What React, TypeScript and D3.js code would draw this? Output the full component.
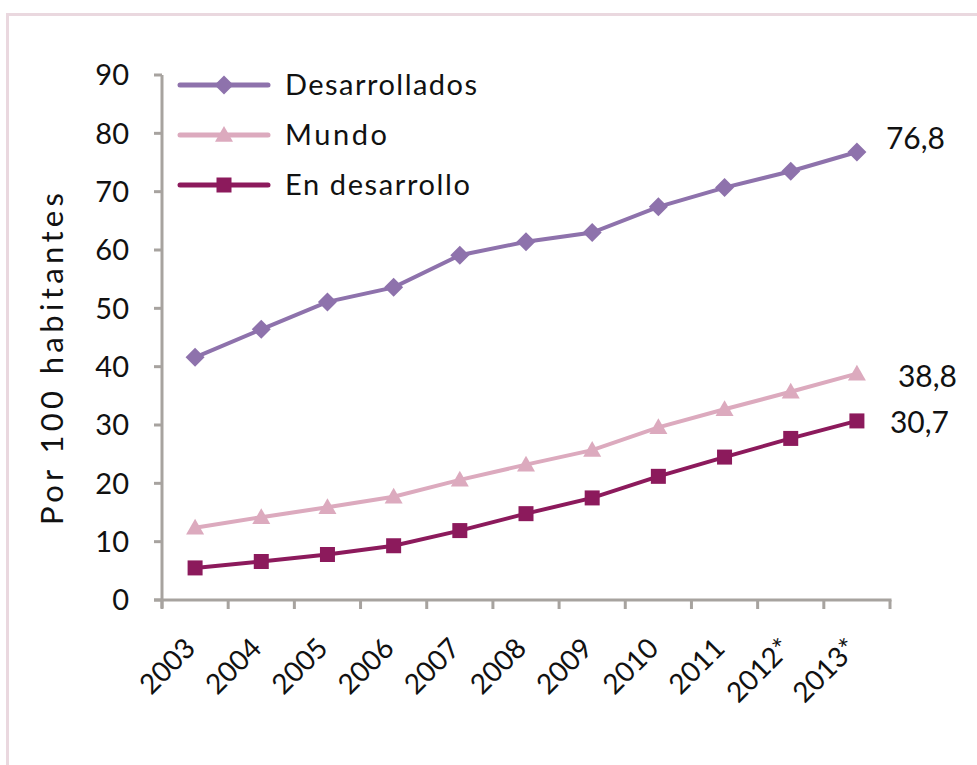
import React from "react";
import * as d3 from "d3";

const years = ["2003", "2004", "2005", "2006", "2007", "2008", "2009", "2010", "2011", "2012*", "2013*"];
const desarrollados = [41.6, 46.4, 51.1, 53.6, 59.1, 61.4, 63.0, 67.4, 70.7, 73.5, 76.8];
const mundo = [12.4, 14.2, 15.9, 17.7, 20.6, 23.2, 25.7, 29.6, 32.7, 35.7, 38.8];
const enDesarrollo = [5.5, 6.6, 7.8, 9.3, 11.9, 14.8, 17.5, 21.2, 24.5, 27.7, 30.7];
const yTicks = [0, 10, 20, 30, 40, 50, 60, 70, 80, 90];
const endLabels = ["76,8", "38,8", "30,7"];
const seriesNames = ["Desarrollados", "Mundo", "En desarrollo"];

const FONT = "Lato, 'Open Sans', sans-serif";
const AXIS = "#a7a39f";

export default function App() {
  const W = 977, H = 765;
  const x0 = 162, x1 = 890, y0 = 600, y1 = 75;
  const x = d3.scaleBand<string>().domain(years).range([x0, x1]);
  const y = d3.scaleLinear().domain([0, 90]).range([y0, y1]);
  const cx = (d: string) => (x(d) as number) + x.bandwidth() / 2;

  const series = [
    { name: seriesNames[0], data: desarrollados, color: "#8e72ac", marker: "diamond", label: endLabels[0], ldx: 29, ldy: -14, lw: 192 },
    { name: seriesNames[1], data: mundo, color: "#dcaabe", marker: "triangle", label: endLabels[1], ldx: 41, ldy: 3, lw: 102 },
    { name: seriesNames[2], data: enDesarrollo, color: "#8c1a5c", marker: "square", label: endLabels[2], ldx: 33, ldy: 1, lw: 185 },
  ];

  const line = d3.line<number>().x((_, i) => cx(years[i])).y((v) => y(v));

  const marker = (type: string, px: number, py: number, color: string, key: string) => {
    if (type === "diamond") {
      const s = 9.5;
      return <path key={key} d={`M${px},${py - s}L${px + s},${py}L${px},${py + s}L${px - s},${py}Z`} fill={color} />;
    }
    if (type === "triangle") {
      const s = 9;
      return <path key={key} d={`M${px},${py - s}L${px + s},${py + s * 0.75}L${px - s},${py + s * 0.75}Z`} fill={color} />;
    }
    const s = 7.5;
    return <rect key={key} x={px - s} y={py - s} width={2 * s} height={2 * s} fill={color} />;
  };

  return (
    <svg width={W} height={H} style={{ position: "absolute", left: 0, top: 0 }}>
      <rect x={0} y={0} width={W} height={H} fill="#fff" />
      <path d={`M7.5,${H}V14.5H${W}`} fill="none" stroke="#ead8df" strokeWidth={3} />

      {/* Y axis */}
      <line x1={x0} x2={x0} y1={y1} y2={y0 + 8} stroke={AXIS} strokeWidth={3} />
      {yTicks.map((t) => (
        <g key={t}>
          <line x1={x0 - 8} x2={x0} y1={y(t)} y2={y(t)} stroke={AXIS} strokeWidth={3} />
          <text x={x0 - 33} y={y(t)} dy="0.36em" textAnchor="end" fontFamily={FONT} fontSize={29} fill="#111">{t}</text>
        </g>
      ))}
      {/* X axis */}
      <line x1={x0 - 8} x2={x1 + 1.5} y1={y0} y2={y0} stroke={AXIS} strokeWidth={3} />
      {[...years.map((d) => x(d) as number), x1].map((p, i) => (
        <line key={i} x1={p} x2={p} y1={y0} y2={y0 + 9} stroke={AXIS} strokeWidth={3} />
      ))}
      {years.map((d) => (
        <text key={d} transform={`translate(${cx(d) + 2},${y0 + 50}) rotate(-45)`} textAnchor="end" fontFamily={FONT} fontSize={28} fill="#111">{d}</text>
      ))}

      <text transform={`translate(63,359) rotate(-90)`} textAnchor="middle" fontFamily={FONT} fontSize={31} fill="#111" textLength={332} lengthAdjust="spacing">Por 100 habitantes</text>

      {series.map((s) => (
        <g key={s.name}>
          <path d={line(s.data) || ""} fill="none" stroke={s.color} strokeWidth={4} />
          {s.data.map((v, i) => marker(s.marker, cx(years[i]), y(v), s.color, s.name + i))}
          <text x={cx(years[years.length - 1]) + s.ldx} y={y(s.data[s.data.length - 1]) + s.ldy} dy="0.36em" fontFamily={FONT} fontSize={30} fill="#111">{s.label}</text>
        </g>
      ))}

      {/* Legend */}
      {series.map((s, i) => {
        const ly = 85 + i * 50;
        return (
          <g key={"lg" + s.name}>
            <line x1={180} x2={268} y1={ly} y2={ly} stroke={s.color} strokeWidth={5} strokeLinecap="round" />
            {marker(s.marker, 224, ly, s.color, "lm" + i)}
            <text x={285} y={ly} dy="0.36em" fontFamily={FONT} fontSize={29} fill="#111" textLength={s.lw} lengthAdjust="spacing">{s.name}</text>
          </g>
        );
      })}
    </svg>
  );
}
